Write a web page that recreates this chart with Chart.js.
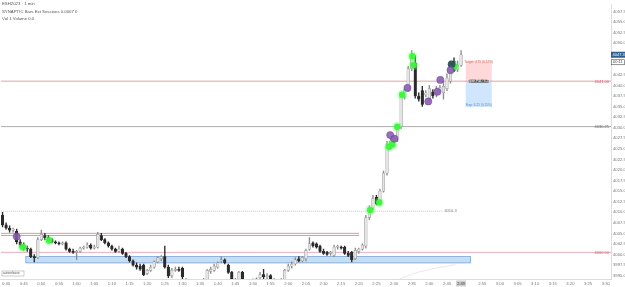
<!DOCTYPE html>
<html><head><meta charset="utf-8">
<script src="https://cdn.jsdelivr.net/npm/chart.js@4.4.0/dist/chart.umd.min.js"></script>
<style>html,body{margin:0;padding:0;background:#fff;overflow:hidden}</style>
</head><body>
<canvas id="c" width="625" height="287"></canvas>
<script>
// x-axis tick labels (every 5 minutes; x value 0 = 0:40)
const tickLabels = ['0:40','0:45','0:50','0:55','1:00','1:05','1:10','1:15','1:20','1:25','1:30','1:35','1:40','1:45','1:50','1:55','2:00','2:05','2:10','2:15','2:20','2:25','2:30','2:35','2:40','2:45','2:50','2:55','3:00','3:05','3:10','3:15','3:20','3:25','3:30'];
const lastBarLabel = '2:49';
const firstCandleMinute = -1; // first candle is 0:39, one candle per minute

const opens = [4009.25,4007.0,4006.25,4005.75,4005.5,4003.0,4002.25,4001.5,4001.25,3999.5,
3999.25,4003.5,4004.5,4004.0,4003.5,4003.0,4002.75,4002.5,4002.75,4001.25,
4000.75,4000.5,4000.75,4001.5,4001.75,4002.25,4001.5,4001.75,4004.5,4003.5,
4002.75,4002.0,4001.25,4000.75,4001.25,4000.25,3999.5,3998.5,3997.5,3997.25,
3997.5,3995.5,3996.25,3997.0,3998.25,3999.0,3999.5,3997.0,3995.0,3996.25,
3996.5,3996.75,3993.5,3993.0,3992.5,3993.25,3992.75,3993.5,3993.0,3996.0,
3996.25,3997.0,3998.5,3998.75,3997.5,3995.75,3994.0,3993.25,3995.75,3993.5,
3993.0,3993.25,3993.75,3994.5,3995.25,3994.75,3995.0,3994.0,3993.5,3993.75,
3993.25,3996.25,3997.25,3997.75,3999.0,3998.5,3999.0,4001.25,4002.75,4002.5,
4002.0,4000.75,4000.5,4000.25,3999.75,4001.75,4001.75,4001.75,4000.25,4000.5,
3999.0,4000.75,4001.25,4002.0,4008.75,4011.0,4013.5,4012.0,4015.0,4019.25,
4026.0,4026.5,4027.25,4030.25,4037.25,4039.0,4044.0,4045.25,4037.5,4038.75,
4037.75,4036.75,4038.5,4037.75,4038.75,4038.25,4039.25,4041.0,4045.75,4043.75,
4044.75];
const highs = [4010.0,4007.5,4006.75,4006.25,4006.0,4003.5,4002.75,4002.0,4001.5,4000.0,
4004.0,4005.75,4005.0,4004.5,4003.75,4003.25,4003.0,4003.0,4003.0,4001.5,
4001.25,4001.0,4001.75,4002.0,4002.75,4002.5,4002.25,4005.25,4005.0,4003.75,
4003.0,4002.25,4001.5,4002.0,4001.5,4000.5,3999.75,3998.75,3998.0,3997.75,
3997.75,3996.5,3997.5,3998.5,3999.5,3999.75,4002.0,3997.5,3996.75,3997.0,
3997.0,3997.0,3994.25,3993.75,3993.75,3994.0,3994.0,3994.25,3996.5,3997.0,
3997.75,3998.25,3999.5,3999.0,3997.75,3996.0,3994.25,3996.0,3996.0,3994.0,
3993.75,3994.25,3994.5,3995.75,3996.5,3995.5,3995.25,3994.25,3994.0,3994.25,
3996.5,3997.75,3998.25,3999.25,3999.5,3999.5,4001.25,4004.0,4003.0,4002.75,
4002.25,4001.25,4000.75,4000.75,4002.25,4002.25,4002.0,4002.0,4000.75,4000.75,
4001.5,4001.5,4002.5,4009.25,4011.5,4014.0,4014.0,4015.5,4019.75,4026.75,
4027.5,4028.0,4030.75,4037.75,4039.5,4044.5,4048.25,4047.0,4038.25,4039.75,
4038.75,4040.0,4039.0,4039.75,4040.0,4041.0,4042.75,4045.75,4046.5,4045.75,
4048.25];
const lows = [4006.5,4006.0,4005.25,4005.25,4002.5,4001.75,4001.0,4000.75,3999.25,3998.25,
3999.0,4003.25,4003.5,4003.0,4002.75,4002.5,4002.25,4002.25,4001.0,4000.5,
4000.25,3998.75,4000.5,4001.25,4001.5,4001.25,4001.25,4001.5,4003.25,4002.5,
4001.75,4001.0,4000.5,4000.5,4000.0,3999.25,3998.25,3997.25,3996.5,3996.25,
3995.0,3995.25,3996.0,3996.75,3998.0,3998.5,3996.75,3994.5,3994.5,3996.0,
3996.0,3994.25,3992.5,3992.0,3992.0,3992.25,3992.5,3992.75,3992.75,3995.5,
3996.0,3996.75,3998.0,3997.75,3995.5,3993.5,3993.0,3993.0,3993.25,3992.75,
3992.5,3993.0,3993.5,3994.25,3994.25,3994.25,3993.5,3993.0,3993.0,3992.75,
3993.0,3996.0,3996.75,3997.5,3998.25,3998.25,3998.5,4001.0,4001.75,4001.5,
4000.5,4000.0,3999.75,3999.75,3999.5,4001.25,4001.25,4000.0,3999.5,3998.25,
3998.75,4000.25,4001.0,4001.5,4008.25,4010.5,4011.75,4011.75,4014.75,4018.75,
4025.0,4025.5,4026.75,4029.75,4036.75,4038.5,4043.5,4037.0,4036.25,4035.0,
4037.25,4036.25,4037.0,4037.25,4038.25,4036.75,4038.75,4040.5,4043.25,4043.25,
4044.5];
const closes = [4007.0,4006.25,4005.75,4006.0,4003.0,4002.25,4001.5,4001.25,3999.5,3999.25,
4003.5,4004.75,4004.0,4003.5,4003.0,4002.75,4002.5,4002.75,4001.25,4000.75,
4000.5,4000.75,4001.5,4001.75,4002.25,4001.5,4001.75,4004.75,4003.5,4002.75,
4002.0,4001.25,4000.75,4001.25,4000.25,3999.5,3998.5,3997.5,3997.0,3996.5,
3995.25,3996.25,3997.0,3998.25,3999.25,3999.5,3997.0,3995.0,3996.25,3996.5,
3996.25,3994.75,3993.0,3992.5,3993.25,3992.75,3993.5,3993.0,3996.25,3996.5,
3997.25,3998.0,3998.75,3998.0,3995.75,3994.0,3993.25,3995.75,3993.5,3993.0,
3993.25,3993.75,3994.25,3995.25,3994.75,3995.0,3994.0,3993.5,3993.75,3993.25,
3996.25,3997.25,3997.75,3998.75,3998.5,3999.25,4001.0,4002.5,4002.0,4001.75,
4000.75,4000.25,4000.0,4000.5,4001.75,4002.0,4001.5,4000.25,3999.75,3998.75,
4001.0,4001.25,4002.25,4008.75,4011.0,4013.25,4012.0,4015.0,4019.25,4026.0,
4026.75,4027.5,4030.25,4037.25,4039.0,4044.0,4046.5,4037.5,4036.75,4035.5,
4038.25,4039.25,4037.5,4039.25,4039.5,4039.75,4041.75,4045.25,4043.5,4044.75,
4047.25];

// signal markers (minute offset from 0:40, price)
const purpleX = [3, 108.9, 110.1, 113.8, 119.7, 122.3, 123.1, 126];
const purpleY = [4004.25, 4028.25, 4027.4, 4039.4, 4036.2, 4038.5, 4041.3, 4043.6];
const greenX = [4.8, 12.2, 103.2, 105.8, 108.6, 109.5, 110.9, 112.3, 115.2, 115.5, 127.1];
const greenY = [4001.7, 4003.3, 4010.5, 4012.3, 4025.5, 4026.0, 4030.2, 4037.8, 4046.9, 4044.8, 4044.5];
const darkX = [126.3];
const darkY = [4045.0];

// horizontal levels
const redLevel = 4041.0, grayLevel = 4030.25, dottedLevel = 4010.25, pinkLevel = 4000.5;
const doubleLevels = [4005.0, 4004.5];
const zoneTop = 3999.5, zoneBottom = 3998.0, zoneStart = 5.6, zoneEnd = 131.7;
const dottedEnd = 123.7, doubleEnd = 100.1;
const boxStart = 130.3, boxEnd = 137.7, boxTarget = 4045.9, boxEntry = 4041.0, boxStop = 4034.9;
const curveX = [111.5, 116, 121, 127.4];
const curveY = [3994.2, 3995.6, 3996.6, 3997.6];

const xMin = -1.5, xMax = 171.5, yMin = 3994.2, yMax = 4059.13;
const FONT = 'Liberation Sans';

const bull = closes.map((c,k)=>c>=opens[k]);
const bodyData = opens.map((o,k)=>({x:k+firstCandleMinute, y:[o, closes[k]]}));
const wickData = opens.map((o,k)=>({x:k+firstCandleMinute, y:[lows[k], highs[k]]}));
const pts = (xs, ys)=>xs.map((x,k)=>({x, y:ys[k]}));
function hline(y, x0, x1, color, width, dash){
  return {type:'line', data:[{x:x0,y},{x:x1,y}], borderColor:color, borderWidth:width, borderDash:dash||[], pointRadius:0, order:5, clip:0};
}

const overlay = {
  id:'overlay',
  beforeDatasetsDraw(chart){
    const {ctx, scales:{x,y}} = chart;
    ctx.save();
    const zx0=x.getPixelForValue(zoneStart), zx1=x.getPixelForValue(zoneEnd);
    const zy0=y.getPixelForValue(zoneTop), zy1=y.getPixelForValue(zoneBottom);
    ctx.fillStyle='rgba(160,200,238,0.6)';
    ctx.fillRect(zx0,zy0,zx1-zx0,zy1-zy0);
    ctx.strokeStyle='rgba(70,130,200,0.9)'; ctx.lineWidth=0.6;
    ctx.strokeRect(zx0,zy0,zx1-zx0,zy1-zy0);
    const bx0=x.getPixelForValue(boxStart), bx1=x.getPixelForValue(boxEnd);
    const by0=y.getPixelForValue(boxTarget), by1=y.getPixelForValue(boxEntry), by2=y.getPixelForValue(boxStop);
    ctx.fillStyle='rgba(255,170,170,0.45)'; ctx.fillRect(bx0,by0,bx1-bx0,by1-by0);
    ctx.fillStyle='rgba(150,200,250,0.45)'; ctx.fillRect(bx0,by1,bx1-bx0,by2-by1);
    ctx.restore();
  },
  afterDraw(chart){
    const {ctx, scales:{x,y}, chartArea:a} = chart;
    ctx.save();
    ctx.textBaseline='middle';
    ctx.fillStyle='#555'; ctx.textAlign='left';
    ctx.font=`4.3px "${FONT}"`;
    ctx.fillText('ESH2023 · 1 min', 2, 4);
    ctx.fillText('SYNAPTIC Bars Ext Sessions 0.0007 0', 2, 12);
    ctx.fillText('Vol 1 Volume 0.0', 2, 19);
    ctx.textAlign='right'; ctx.font=`4px "${FONT}"`;
    ctx.fillStyle='#d05a6a'; ctx.fillText('4041.00', a.right-2, y.getPixelForValue(redLevel)+0.3);
    ctx.fillStyle='#666'; ctx.fillText('4030.25', a.right-2, y.getPixelForValue(grayLevel)+0.3);
    ctx.fillStyle='#d05a6a'; ctx.fillText('4000.50', a.right-2, y.getPixelForValue(pinkLevel)+0.3);
    ctx.textAlign='left'; ctx.fillStyle='#777';
    ctx.fillText('4010.3', x.getPixelForValue(dottedEnd)+2, y.getPixelForValue(dottedLevel));
    const bx0=x.getPixelForValue(boxStart), bx1=x.getPixelForValue(boxEnd), bc=(bx0+bx1)/2;
    ctx.textAlign='center'; ctx.font=`3.2px "${FONT}"`;
    ctx.fillStyle='#d07070'; ctx.fillText('Target: 4.75 (0.12%)', bc, y.getPixelForValue(boxTarget)+1.5);
    ctx.fillStyle='#555'; ctx.fillRect(bc-10, y.getPixelForValue(boxEntry)-1.5, 20, 3);
    ctx.fillStyle='#fff'; ctx.fillText('Open P&L: 6.25', bc, y.getPixelForValue(boxEntry));
    ctx.fillStyle='#5a8ec8'; ctx.fillText('Stop: 6.25 (0.15%)', bc, y.getPixelForValue(boxStop)-1.5);
    const py = y.getPixelForValue(closes[closes.length-1]);
    ctx.fillStyle='#2f5f8f'; ctx.fillRect(a.right, py-3, 14, 6);
    ctx.fillStyle='#fff'; ctx.textAlign='left'; ctx.font=`4px "${FONT}"`;
    ctx.fillText(closes[closes.length-1].toFixed(1), a.right+1.5, py);
    ctx.strokeStyle='#555'; ctx.lineWidth=0.6; ctx.fillStyle='#fff';
    ctx.fillRect(a.right+0.5, py+5, 13, 5); ctx.strokeRect(a.right+0.5, py+5, 13, 5);
    ctx.fillStyle='#444'; ctx.fillText('00:11', a.right+2, py+7.6);
    const lx = x.getPixelForValue(closes.length-1+firstCandleMinute);
    ctx.fillStyle='#d0d0d0'; ctx.fillRect(lx-5, a.bottom+1.5, 10, 6);
    ctx.fillStyle='#333'; ctx.textAlign='center'; ctx.fillText(lastBarLabel, lx, a.bottom+4.6);
    ctx.strokeStyle='#999'; ctx.lineWidth=0.5; ctx.fillStyle='#fff';
    ctx.fillRect(2, 271, 22, 5); ctx.strokeRect(2, 271, 22, 5);
    ctx.fillStyle='#555'; ctx.textAlign='left'; ctx.font=`3.2px "${FONT}"`;
    ctx.fillText('autorelease', 3, 273.6);
    ctx.restore();
  }
};

new Chart(document.getElementById('c'), {
  type:'bar',
  data:{datasets:[
    {type:'line', data:pts(greenX,greenY), showLine:false, pointRadius:3.2, pointBackgroundColor:'rgba(60,245,60,0.95)', pointBorderColor:'rgba(60,245,60,0.0)', pointBorderWidth:0, order:1, clip:false},
    {type:'line', data:pts(greenX,greenY), showLine:false, pointRadius:5, pointBackgroundColor:'rgba(100,255,100,0.35)', pointBorderWidth:0, order:2, clip:false},
    {type:'line', data:pts(purpleX,purpleY), showLine:false, pointRadius:3.6, pointBackgroundColor:'rgba(135,90,175,0.88)', pointBorderColor:'rgba(105,65,150,0.9)', pointBorderWidth:0.5, order:0, clip:false},
    {type:'line', data:pts(darkX,darkY), showLine:false, pointRadius:3.8, pointBackgroundColor:'rgba(45,80,90,0.95)', pointBorderWidth:0, order:0, clip:false},
    {data:bodyData, grouped:false, barThickness:2.6, minBarLength:0.8, borderSkipped:false,
     backgroundColor:bull.map(b=>b?'#e4e4e4':'#2a2a2a'), borderColor:bull.map(b=>b?'#8c8c8c':'#2a2a2a'), borderWidth:0.5, order:3, clip:0},
    {data:wickData, grouped:false, barThickness:0.7, borderSkipped:false,
     backgroundColor:bull.map(b=>b?'#8c8c8c':'#2a2a2a'), borderWidth:0, order:4, clip:0},
    hline(redLevel, xMin, xMax, '#e07585', 0.7),
    hline(grayLevel, xMin, xMax, '#8a8a8a', 0.7),
    hline(dottedLevel, xMin, dottedEnd, '#9a9a9a', 0.6, [1,1]),
    hline(doubleLevels[0], xMin, doubleEnd, '#c94f5f', 0.6),
    hline(doubleLevels[1], xMin, doubleEnd, '#c94f5f', 0.6),
    hline(pinkLevel, xMin, xMax, '#e48a9c', 0.7),
    {type:'line', data:pts(curveX,curveY), borderColor:'#d6d6d6', borderWidth:0.6, pointRadius:0, tension:0.4, order:6, clip:0}
  ]},
  options:{
    responsive:false, animation:false, devicePixelRatio:1,
    layout:{padding:0, autoPadding:false},
    plugins:{legend:{display:false}, tooltip:{enabled:false}},
    scales:{
      x:{type:'linear', min:xMin, max:xMax, offset:false,
        grid:{display:false, drawTicks:false}, border:{display:true, color:'#d4d4d4', width:0.8},
        ticks:{stepSize:5, includeBounds:false, autoSkip:false, maxRotation:0, padding:2, color:'#777', font:{size:4.2, family:FONT},
          callback:(v)=>{const k=Math.round(v/5); if (k===26) return ''; return tickLabels[k]||'';}},
        afterFit:(s)=>{s.height=8;}},
      y:{type:'linear', position:'right', min:yMin, max:yMax,
        grid:{display:false, drawTicks:false}, border:{display:true, color:'#d4d4d4', width:0.8},
        ticks:{stepSize:2.5, includeBounds:false, autoSkip:false, padding:2, color:'#777', font:{size:4.2, family:FONT},
          callback:(v)=>v.toFixed(1)},
        afterFit:(s)=>{s.width=14;}}
    }
  },
  plugins:[overlay]
});
</script>
</body></html>
